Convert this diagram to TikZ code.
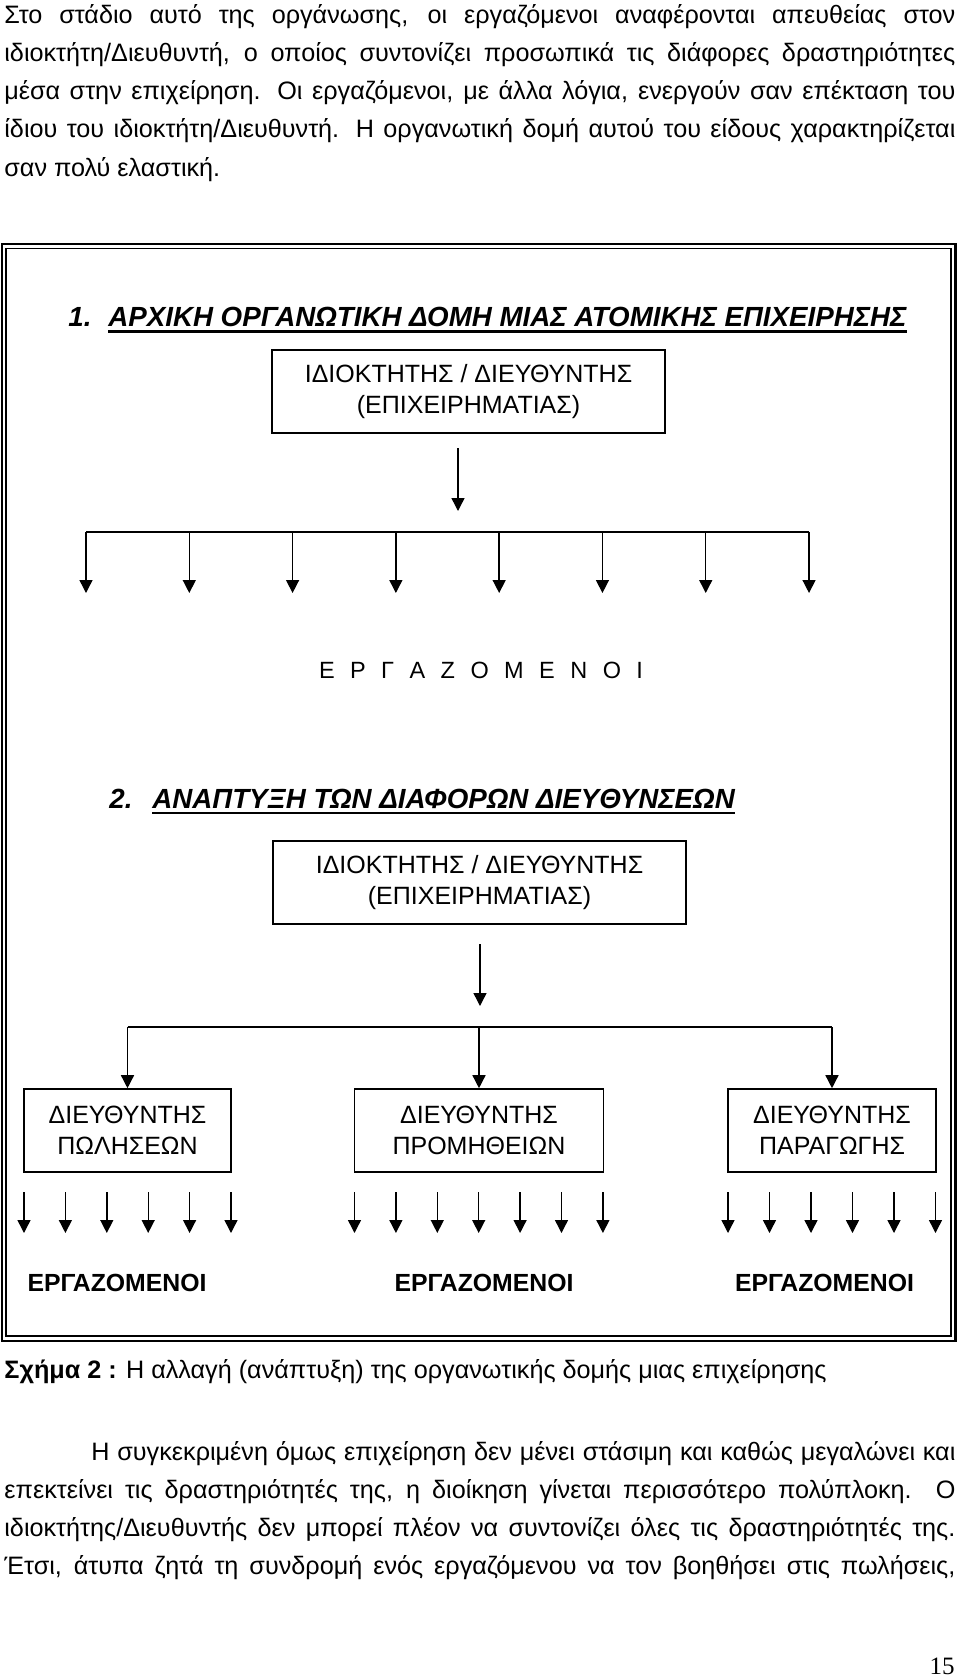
\documentclass[tikz,border=0pt]{standalone}
\usepackage{fontspec}
\setmainfont{Liberation Sans}
\newfontfamily\pgnumfont{Liberation Serif}
\usetikzlibrary{arrows.meta}
\tikzset{
  bodytxt/.style={anchor=base west, inner sep=0pt, font=\fontsize{12.6pt}{14pt}\selectfont},
  ttl/.style={anchor=base west, inner sep=0pt, font=\fontsize{13.85pt}{16pt}\selectfont\bfseries\itshape},
  ulin/.style={line width=1.4pt},
  orgbox/.style={draw, line width=0.8pt, inner sep=0pt, align=center, minimum height=41.5pt,
    font=\fontsize{12.5pt}{15.3pt}\selectfont},
  arr/.style={line width=0.7pt, -{Triangle[length=6.5pt,width=6.5pt]}},
  bus1/.style={line width=1pt},
  bus2/.style={line width=0.8pt},
  empl/.style={anchor=base, inner sep=0pt, font=\fontsize{12.4pt}{14pt}\selectfont\bfseries},
}
\begin{document}
\begin{tikzpicture}[x=0.5pt,y=-0.5pt]
\useasboundingbox (0,0) rectangle (960,1678);
% ---- top paragraph
\node[bodytxt] (p1) at (4,23) {\makebox[475.5pt][s]{Στο στάδιο αυτό της οργάνωσης, οι εργαζόμενοι αναφέρονται απευθείας στον}};
\node[bodytxt] (p2) at (4,61.3) {\makebox[475.5pt][s]{ιδιοκτήτη/Διευθυντή, ο οποίος συντονίζει προσωπικά τις διάφορες δραστηριότητες}};
\node[bodytxt] (p3) at (4,99.6) {\makebox[475.5pt][s]{μέσα στην επιχείρηση. Οι εργαζόμενοι, με άλλα λόγια, ενεργούν σαν επέκταση του}};
\node[bodytxt] (p4) at (4,137.9) {\makebox[475.5pt][s]{ίδιου του ιδιοκτήτη/Διευθυντή. Η οργανωτική δομή αυτού του είδους χαρακτηρίζεται}};
\node[bodytxt] (p5) at (4,176.2) {σαν πολύ ελαστική.};
% ---- frame
\draw[line width=1.25pt] (2,244) rectangle (955.5,1341);
\draw[line width=0.7pt] (6,248.5) rectangle (951,1336);
% ---- section 1
\node[ttl] (n1) at (68,326.7) {1.};
\node[ttl] (t1) at (108,326.7) {ΑΡΧΙΚΗ ΟΡΓΑΝΩΤΙΚΗ ΔΟΜΗ ΜΙΑΣ ΑΤΟΜΙΚΗΣ ΕΠΙΧΕΙΡΗΣΗΣ};
\draw[ulin] ([yshift=-2.4pt]t1.base west) -- ([yshift=-2.4pt]t1.base east);
\node[orgbox, minimum width=196.5pt] (own1) at (468.5,391.5) {ΙΔΙΟΚΤΗΤΗΣ / ΔΙΕΥΘΥΝΤΗΣ\\(ΕΠΙΧΕΙΡΗΜΑΤΙΑΣ)};
\coordinate (a1s) at (458,448);
\coordinate (a1e) at (458,511);
\draw[arr] (a1s) -- (a1e);
\coordinate (b1L) at (86,531.5);
\coordinate (b1R) at (809,531.5);
\draw[bus1] (b1L) -- (b1R);
\foreach \i in {0,...,7}{
  \pgfmathsetmacro\xx{86+\i*103.29}
  \coordinate (w1t\i) at (\xx,531.5);
  \coordinate (w1b\i) at (\xx,593);
  \draw[arr] (w1t\i) -- (w1b\i);
}
\node[anchor=base, inner sep=0pt, font=\fontsize{11.75pt}{14pt}\selectfont] (emp1) at (481,678.3) {\makebox[162pt][s]{Ε Ρ Γ Α Ζ Ο Μ Ε Ν Ο Ι}};
% ---- section 2
\node[ttl] (n2) at (109,808.3) {2.};
\node[ttl] (t2) at (152,808.3) {ΑΝΑΠΤΥΞΗ ΤΩΝ ΔΙΑΦΟΡΩΝ ΔΙΕΥΘΥΝΣΕΩΝ};
\draw[ulin] ([yshift=-2.3pt]t2.base west) -- ([yshift=-2.3pt]t2.base east);
\node[orgbox, minimum width=206.5pt] (own2) at (479.5,882.5) {ΙΔΙΟΚΤΗΤΗΣ / ΔΙΕΥΘΥΝΤΗΣ\\(ΕΠΙΧΕΙΡΗΜΑΤΙΑΣ)};
\coordinate (a2s) at (480,944);
\coordinate (a2e) at (480,1006);
\draw[arr] (a2s) -- (a2e);
\node[orgbox, minimum width=103.5pt] (dA) at (127.5,1130.5) {ΔΙΕΥΘΥΝΤΗΣ\\ΠΩΛΗΣΕΩΝ};
\node[orgbox, minimum width=124.5pt] (dB) at (479,1130.5) {ΔΙΕΥΘΥΝΤΗΣ\\ΠΡΟΜΗΘΕΙΩΝ};
\node[orgbox, minimum width=104pt] (dC) at (832,1130.5) {ΔΙΕΥΘΥΝΤΗΣ\\ΠΑΡΑΓΩΓΗΣ};
\coordinate (b2A) at (127.5,1027);
\coordinate (b2B) at (479,1027);
\coordinate (b2C) at (832,1027);
\draw[bus2] (b2A) -- (b2C);
\draw[arr] (b2A) -- (dA.north);
\draw[arr] (b2B) -- (dB.north);
\draw[arr] (b2C) -- (dC.north);
\foreach \i in {0,...,5}{
  \pgfmathsetmacro\xx{24+\i*41.4}
  \coordinate (sAt\i) at (\xx,1192);
  \coordinate (sAb\i) at (\xx,1233);
  \draw[arr] (sAt\i) -- (sAb\i);
}
\foreach \i in {0,...,6}{
  \pgfmathsetmacro\xx{354.5+\i*41.4}
  \coordinate (sBt\i) at (\xx,1192);
  \coordinate (sBb\i) at (\xx,1233);
  \draw[arr] (sBt\i) -- (sBb\i);
}
\foreach \i in {0,...,5}{
  \pgfmathsetmacro\xx{728+\i*41.5}
  \coordinate (sCt\i) at (\xx,1192);
  \coordinate (sCb\i) at (\xx,1233);
  \draw[arr] (sCt\i) -- (sCb\i);
}
\node[empl] (eA) at (117,1291) {ΕΡΓΑΖΟΜΕΝΟΙ};
\node[empl] (eB) at (484,1291) {ΕΡΓΑΖΟΜΕΝΟΙ};
\node[empl] (eC) at (824.5,1291) {ΕΡΓΑΖΟΜΕΝΟΙ};
% ---- caption
\node[bodytxt] (cap) at (4,1378) {\textbf{Σχήμα 2 :} Η αλλαγή (ανάπτυξη) της οργανωτικής δομής μιας επιχείρησης};
% ---- bottom paragraph
\node[bodytxt] (q1) at (91,1460.5) {\makebox[432pt][s]{Η συγκεκριμένη όμως επιχείρηση δεν μένει στάσιμη και καθώς μεγαλώνει και}};
\node[bodytxt] (q2) at (4,1498.5) {\makebox[475.5pt][s]{επεκτείνει τις δραστηριότητές της, η διοίκηση γίνεται περισσότερο πολύπλοκη. Ο}};
\node[bodytxt] (q3) at (4,1536.5) {\makebox[475.5pt][s]{ιδιοκτήτης/Διευθυντής δεν μπορεί πλέον να συντονίζει όλες τις δραστηριότητές της.}};
\node[bodytxt] (q4) at (4,1574.5) {\makebox[475.5pt][s]{Έτσι, άτυπα ζητά τη συνδρομή ενός εργαζόμενου να τον βοηθήσει στις πωλήσεις,}};
\node[anchor=base east, inner sep=0pt, font=\pgnumfont\fontsize{12.5pt}{14pt}\selectfont] (pg) at (955,1674.5) {15};
\end{tikzpicture}
\end{document}
